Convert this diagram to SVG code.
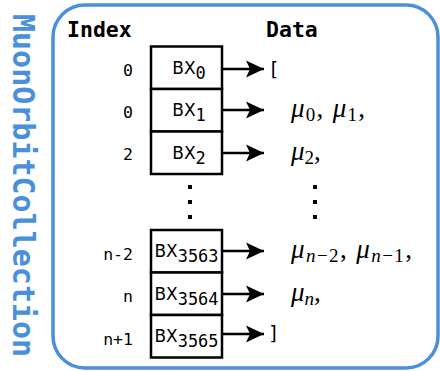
<svg xmlns="http://www.w3.org/2000/svg" width="440" height="371" viewBox="0 0 440 371">
<style>
.frame{fill:#fff;stroke:#4a8fdb;stroke-width:3.5}
.box{fill:#fff;stroke:#000;stroke-width:2.5}
.conn{stroke:#000;stroke-width:2.5;fill:none}
.hdr{font-family:"DejaVu Sans Mono",monospace;font-weight:bold;font-size:21.5px;fill:#000}
.idx{font-family:"DejaVu Sans Mono",monospace;font-size:16.5px;fill:#000;text-anchor:end}
.bx{font-family:"DejaVu Sans",sans-serif;font-size:17px;fill:#000;text-anchor:middle}
.sub{font-family:"DejaVu Sans Mono",monospace}
.math{font-family:"Liberation Serif",serif;font-style:italic;font-size:27px;fill:#000}
.ms{font-size:19px;font-style:normal}
.mi{font-size:19px;font-style:italic}
.br{font-family:"DejaVu Sans Mono",monospace;font-size:19px;fill:#000}
.title{font-family:"DejaVu Sans Mono",monospace;font-weight:bold;font-size:30px;fill:#4a8fdb}
.dot{fill:#000}
</style>
<defs>
<marker id="ah" markerUnits="userSpaceOnUse" markerWidth="22" markerHeight="22" viewBox="0 -11 22 22" refX="18" refY="0" orient="auto">
<path d="M0,-8.5 L18,0 L0,8.5 L4,0 Z" fill="#000"/>
</marker>
</defs>
<rect class="frame" x="53" y="5" width="385" height="363" rx="32" ry="32"/>
<text class="title" transform="translate(13,14) rotate(90)">MuonOrbitCollection</text>
<text class="hdr" x="67" y="37">Index</text>
<text class="hdr" x="266" y="37">Data</text>
<g id="row0">
<rect class="box" x="151" y="46.5" width="71" height="42.5"/>
<text class="idx" x="133" y="75.5">0</text>
<text class="bx" x="189" y="74">BX<tspan class="sub" dy="5">0</tspan></text>
</g>
<g id="row1">
<rect class="box" x="151" y="89" width="71" height="42.5"/>
<text class="idx" x="133" y="117.5">0</text>
<text class="bx" x="189" y="116">BX<tspan class="sub" dy="5">1</tspan></text>
</g>
<g id="row2">
<rect class="box" x="151" y="131.5" width="71" height="42.5"/>
<text class="idx" x="133" y="160">2</text>
<text class="bx" x="189" y="159">BX<tspan class="sub" dy="5">2</tspan></text>
</g>
<g id="dots-left">
<rect class="dot" x="188" y="185" width="4" height="4"/>
<rect class="dot" x="188" y="200" width="4" height="4"/>
<rect class="dot" x="188" y="215" width="4" height="4"/>
</g>
<g id="dots-right">
<rect class="dot" x="313" y="185" width="4" height="4"/>
<rect class="dot" x="313" y="200" width="4" height="4"/>
<rect class="dot" x="313" y="215" width="4" height="4"/>
</g>
<g id="row3">
<rect class="box" x="151" y="230" width="71" height="42.5"/>
<text class="idx" x="133" y="260">n-2</text>
<text class="bx" x="186.5" y="257" textLength="64" lengthAdjust="spacingAndGlyphs">BX<tspan class="sub" dy="5">3563</tspan></text>
</g>
<g id="row4">
<rect class="box" x="151" y="272.5" width="71" height="42.5"/>
<text class="idx" x="133" y="302">n</text>
<text class="bx" x="186.5" y="300" textLength="64" lengthAdjust="spacingAndGlyphs">BX<tspan class="sub" dy="5">3564</tspan></text>
</g>
<g id="row5">
<rect class="box" x="151" y="315" width="71" height="42.5"/>
<text class="idx" x="133" y="344.5">n+1</text>
<text class="bx" x="186.5" y="342" textLength="64" lengthAdjust="spacingAndGlyphs">BX<tspan class="sub" dy="5">3565</tspan></text>
</g>
<g id="connectors">
<line class="conn" x1="222" y1="69" x2="264" y2="69" marker-end="url(#ah)"/>
<line class="conn" x1="222" y1="110" x2="264" y2="110" marker-end="url(#ah)"/>
<line class="conn" x1="222" y1="153" x2="264" y2="153" marker-end="url(#ah)"/>
<line class="conn" x1="222" y1="251" x2="264" y2="251" marker-end="url(#ah)"/>
<line class="conn" x1="222" y1="294" x2="264" y2="294" marker-end="url(#ah)"/>
<line class="conn" x1="222" y1="334" x2="264" y2="334" marker-end="url(#ah)"/>
</g>
<g id="data">
<text class="br" x="268" y="76">[</text>
<text class="math" x="291" y="117" textLength="74" lengthAdjust="spacing">μ<tspan class="ms" dy="4">0</tspan><tspan dy="-4" font-style="normal">, </tspan>μ<tspan class="ms" dy="4">1</tspan><tspan dy="-4" font-style="normal">,</tspan></text>
<text class="math" x="291" y="160">μ<tspan class="ms" dy="4">2</tspan><tspan dy="-4" font-style="normal">,</tspan></text>
<text class="math" x="291" y="258" textLength="121" lengthAdjust="spacing">μ<tspan class="mi" dy="4">n</tspan><tspan class="ms">−2</tspan><tspan dy="-4" font-style="normal">, </tspan>μ<tspan class="mi" dy="4">n</tspan><tspan class="ms">−1</tspan><tspan dy="-4" font-style="normal">,</tspan></text>
<text class="math" x="291" y="301">μ<tspan class="mi" dy="4">n</tspan><tspan dy="-4" font-style="normal">,</tspan></text>
<text class="br" x="268" y="340">]</text>
</g>
</svg>
